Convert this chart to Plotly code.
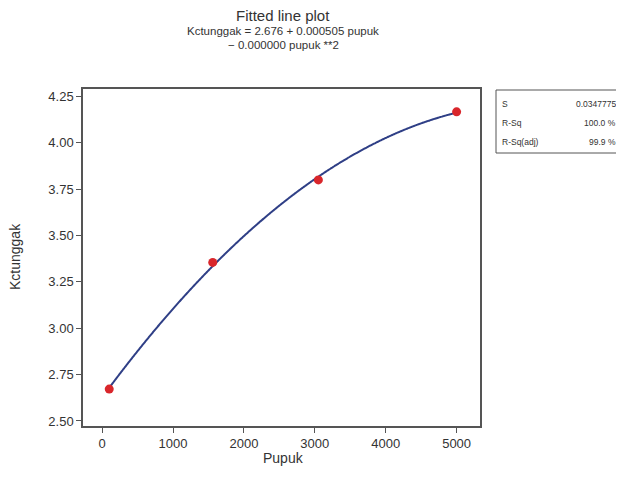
import numpy as np
import plotly.graph_objects as go

# Data
pupuk = [100, 1560, 3050, 5000]
kctunggak = [2.672, 3.355, 3.800, 4.167]

x_ticks = [0, 1000, 2000, 3000, 4000, 5000]
y_ticks = [2.50, 2.75, 3.00, 3.25, 3.50, 3.75, 4.00, 4.25]

stat_names = ["S", "R-Sq", "R-Sq(adj)"]
stat_values = ["0.0347775", "100.0 %", "99.9 %"]

title = "Fitted line plot"
equation = ["Kctunggak = 2.676 + 0.000505 pupuk", "− 0.000000 pupuk **2"]
x_label = "Pupuk"
y_label = "Kctunggak"

# Quadratic fitted line through the observed points
coef = np.polyfit(pupuk, kctunggak, 2)
xf = np.linspace(min(pupuk), max(pupuk), 400)
yf = np.polyval(coef, xf)

FONT = "Liberation Sans, Arial, sans-serif"
TXT = "#333333"

# page offset of the default body margin
O = 8
W, H = 624 - O, 479 - O
L, T = 83 - O, 89 - O
R = W - (480 - O)
B = H - (426 - O)
pw, ph = W - L - R, H - T - B


def px(xp):  # page x -> paper x
    return (xp - O - L) / pw


def py(yp):  # page y -> paper y
    return (H - B - (yp - O)) / ph


fig = go.Figure()
fig.add_trace(go.Scatter(x=xf, y=yf, mode="lines", line_shape="spline",
                         line=dict(color="#2f3f86", width=2), hoverinfo="skip"))
fig.add_trace(go.Scatter(x=pupuk, y=kctunggak, mode="markers",
                         marker=dict(color="#d9262b", size=9)))

fig.update_layout(
    width=W, height=H,
    margin=dict(l=L, r=R, t=T, b=B),
    plot_bgcolor="white", paper_bgcolor="white",
    showlegend=False,
    font=dict(family=FONT, color=TXT),
)
fig.update_xaxes(range=[-270, 5330], tickvals=x_ticks, ticktext=[str(v) for v in x_ticks],
                 showgrid=False, zeroline=False, showline=True, mirror=True,
                 linecolor="#555555", linewidth=1.5, ticks="outside", ticklen=5,
                 tickcolor="#555555", tickfont=dict(size=13, color=TXT))
fig.update_yaxes(range=[2.473, 4.29], tickvals=y_ticks, ticktext=[f"{v:.2f}" for v in y_ticks],
                 showgrid=False, zeroline=False, showline=True, mirror=True,
                 linecolor="#555555", linewidth=1.5, ticks="outside", ticklen=5,
                 tickcolor="#555555", tickfont=dict(size=13, color=TXT))

# Axis titles
fig.add_annotation(text=x_label, xref="paper", yref="paper", x=px(283), y=py(458),
                   showarrow=False, font=dict(size=14, color=TXT), yanchor="middle")
fig.add_annotation(text=y_label, xref="paper", yref="paper", x=px(15), y=py(257),
                   showarrow=False, font=dict(size=14, color=TXT), textangle=-90,
                   xanchor="center", yanchor="middle")

# Titles
fig.add_annotation(text=title, xref="paper", yref="paper", x=px(283), y=py(16),
                   showarrow=False, font=dict(size=15, color=TXT), yanchor="middle")
fig.add_annotation(text=equation[0], xref="paper", yref="paper", x=px(283), y=py(31),
                   showarrow=False, font=dict(size=11.5, color=TXT), yanchor="middle")
fig.add_annotation(text=equation[1], xref="paper", yref="paper", x=px(283), y=py(45),
                   showarrow=False, font=dict(size=11.5, color=TXT), yanchor="middle")

# Stats box
fig.add_shape(type="rect", xref="paper", yref="paper", x0=px(496), x1=px(621),
              y0=py(153), y1=py(90),
              line=dict(color="#555555", width=1), fillcolor="white")
rows_y = [104, 123, 142]
for name, val, ry in zip(stat_names, stat_values, rows_y):
    fig.add_annotation(text=name, xref="paper", yref="paper", x=px(500), y=py(ry),
                       xanchor="left", yanchor="middle", showarrow=False,
                       font=dict(size=8.5, color=TXT))
    fig.add_annotation(text=val, xref="paper", yref="paper", x=px(618), y=py(ry),
                       xanchor="right", yanchor="middle", showarrow=False,
                       font=dict(size=8.5, color=TXT))

fig.write_html("out.html")
